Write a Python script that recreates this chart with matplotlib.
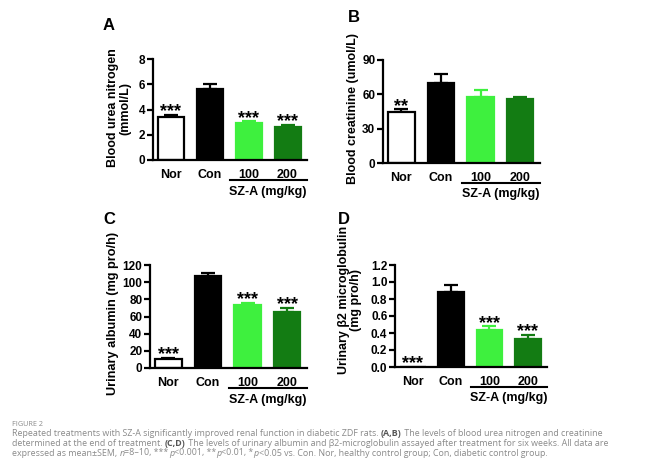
import numpy as np
import matplotlib
matplotlib.use("Agg")
import matplotlib.pyplot as plt
from matplotlib.transforms import blended_transform_factory, ScaledTranslation

plt.rcParams['font.family'] = 'Liberation Sans'
plt.rcParams['font.weight'] = 'bold'

# data (mean, SEM)
groups = ['Nor', 'Con', '100', '200']
bun_mean = [3.4, 5.6, 2.9, 2.65]
bun_sem = [0.2, 0.4, 0.15, 0.12]
crea_mean = [45, 70, 58, 56]
crea_sem = [2, 7.5, 6, 2]
alb_mean = [10, 107, 73, 65]
alb_sem = [2, 4, 3, 5]
b2m_mean = [0.004, 0.88, 0.43, 0.33]
b2m_sem = [0.0, 0.08, 0.05, 0.05]

stars_a = ['***', '', '***', '***']
stars_b = ['**', '', '', '']
stars_c = ['***', '', '***', '***']
stars_d = ['***', '', '***', '***']

face_colors = ['white', 'black', '#3ef03e', '#137c13']
edge_colors = ['black', 'black', '#3ef03e', '#137c13']

fig = plt.figure(figsize=(6.51, 4.68), dpi=100)
W, H = 651, 468


def px_axes(left, right, bottom, top):
    # axes box from pixel coordinates of the reference
    return fig.add_axes([left / W, 1 - bottom / H, (right - left) / W, (bottom - top) / H])


def bar_panel(ax, means, sems, stars, ylim, yticks, ticklabels):
    x = np.arange(len(groups))
    for i in range(len(groups)):
        ax.bar(x[i], means[i], width=0.67, color=face_colors[i], edgecolor=edge_colors[i],
               linewidth=1.6, zorder=2)
        if sems[i] > 0:
            ax.errorbar(x[i], means[i], yerr=[[0], [sems[i]]], ecolor=edge_colors[i],
                        elinewidth=1.6, capsize=5, capthick=1.6, fmt='none', zorder=1)
        if stars[i]:
            ax.annotate(stars[i], (x[i], means[i] + sems[i]), xytext=(0, -4),
                        textcoords='offset points', ha='center', va='bottom',
                        fontsize=13, fontweight='bold')
    ax.set_xlim(-0.46, 3.5)
    ax.set_ylim(*ylim)
    ax.set_yticks(yticks)
    ax.set_yticklabels(ticklabels)
    ax.set_xticks(x)
    ax.set_xticklabels(groups)
    for s in ['top', 'right']:
        ax.spines[s].set_visible(False)
    for s in ['left', 'bottom']:
        ax.spines[s].set_linewidth(1.6)
    ax.tick_params(axis='both', width=1.6, length=4, labelsize=9)
    ax.tick_params(axis='y', labelsize=8.5, pad=1.5)
    ax.tick_params(axis='x', length=0, pad=6.5)
    for lab in ax.get_xticklabels() + ax.get_yticklabels():
        lab.set_fontweight('bold')
    # dose bracket under 100 / 200
    tr = blended_transform_factory(ax.transData, ax.transAxes) + \
        ScaledTranslation(0, -0.20, fig.dpi_scale_trans)
    ax.plot([1.52, 3.5], [0, 0], transform=tr, clip_on=False, color='black', lw=1.5)
    tr2 = blended_transform_factory(ax.transData, ax.transAxes) + \
        ScaledTranslation(0, -0.315, fig.dpi_scale_trans)
    ax.text(2.5, 0, 'SZ-A (mg/kg)', transform=tr2, ha='center', va='center',
            fontsize=9, fontweight='bold')


ax_a = px_axes(153, 307, 160, 59)
bar_panel(ax_a, bun_mean, bun_sem, stars_a, (0, 8), [0, 2, 4, 6, 8], ['0', '2', '4', '6', '8'])
ax_b = px_axes(383, 540, 163, 60)
bar_panel(ax_b, crea_mean, crea_sem, stars_b, (0, 90), [0, 30, 60, 90], ['0', '30', '60', '90'])
ax_c = px_axes(150, 307, 368, 265)
bar_panel(ax_c, alb_mean, alb_sem, stars_c, (0, 120), [0, 20, 40, 60, 80, 100, 120],
          ['0', '20', '40', '60', '80', '100', '120'])
ax_d = px_axes(395, 547, 367, 265)
bar_panel(ax_d, b2m_mean, b2m_sem, stars_d, (0, 1.2), [0, 0.2, 0.4, 0.6, 0.8, 1.0, 1.2],
          ['0.0', '0.2', '0.4', '0.6', '0.8', '1.0', '1.2'])


def ftext(x, y, s, **kw):
    return fig.text(x / W, 1 - y / H, s, **kw)


# panel letters
ftext(103, 25, 'A', fontsize=12, fontweight='bold', va='center')
ftext(348, 18, 'B', fontsize=12, fontweight='bold', va='center')
ftext(103, 219, 'C', fontsize=12, fontweight='bold', va='center')
ftext(338, 219, 'D', fontsize=12, fontweight='bold', va='center')

# y labels
ftext(119, 108, 'Blood urea nitrogen\n(mmol/L)', rotation=90, ha='center', va='center',
      fontsize=9, fontweight='bold', multialignment='center', linespacing=1.0)
ftext(353, 108, 'Blood creatinine (umol/L)', rotation=90, ha='center', va='center',
      fontsize=9, fontweight='bold')
ftext(113, 313, 'Urinary albumin (mg pro/h)', rotation=90, ha='center', va='center',
      fontsize=9.2, fontweight='bold')
ftext(350, 300, 'Urinary \u03b22 microglobulin\n(mg pro/h)', rotation=90, ha='center',
      va='center', fontsize=9, fontweight='bold', multialignment='center', linespacing=1.0)

# caption
cap_color = '#8a8a8a'
ftext(12, 425.5, 'FIGURE 2', fontsize=5.2, color=cap_color, family='Open Sans', va='baseline',
      fontweight='normal')

caption_lines = [
    [('Repeated treatments with SZ-A significantly improved renal function in diabetic ZDF rats. ', 'n'),
     ('(A,B)', 'b'), (' The levels of blood urea nitrogen and creatinine', 'n')],
    [('determined at the end of treatment. ', 'n'), ('(C,D)', 'b'),
     (' The levels of urinary albumin and \u03b22-microglobulin assayed after treatment for six weeks. All data are', 'n')],
    [('expressed as mean\u00b1SEM, ', 'n'), ('n', 'i'), ('=8\u201310, ***', 'n'), ('p', 'i'),
     ('<0.001, **', 'n'), ('p', 'i'), ('<0.01, *', 'n'), ('p', 'i'),
     ('<0.05 vs. Con. Nor, healthy control group; Con, diabetic control group.', 'n')],
]
line_y = [435.5, 445.5, 455.5]
renderer = fig.canvas.get_renderer()
for segs, y in zip(caption_lines, line_y):
    x = 12.0
    for s, style in segs:
        kw = dict(fontsize=6.4, family='Open Sans', va='baseline', color=cap_color,
                  fontweight='normal')
        if style == 'b':
            kw['fontweight'] = 'bold'
            kw['color'] = '#555555'
        if style == 'i':
            kw['fontstyle'] = 'italic'
        t = ftext(x, y, s, **kw)
        x += t.get_window_extent(renderer).width

fig.savefig('out.png', dpi=100)
